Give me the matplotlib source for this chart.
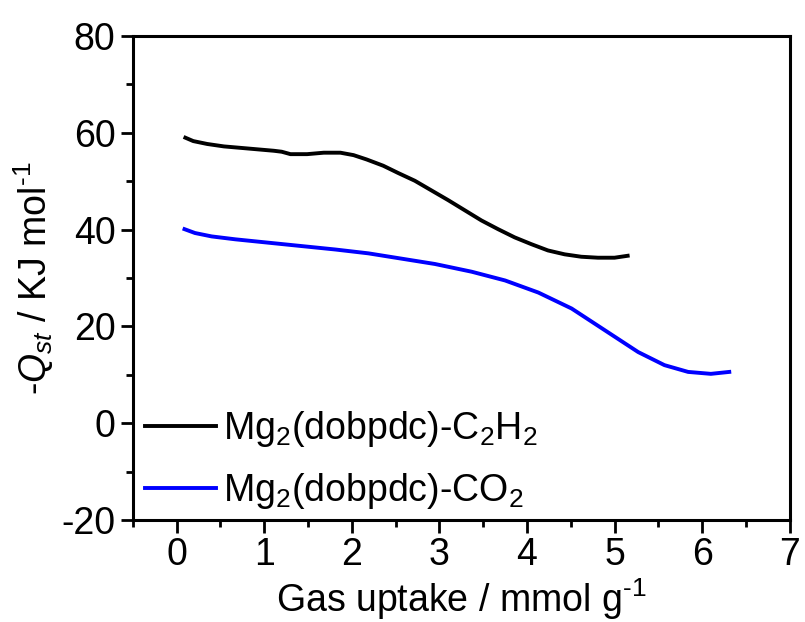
'''吸着熱 (-Qst) と吸着量の関係を描く'''

import matplotlib.pyplot as plt

plt.rcParams['font.family'] = ['Liberation Sans', 'DejaVu Sans']
plt.rcParams['mathtext.fontset'] = 'custom'
plt.rcParams['mathtext.rm'] = 'Liberation Sans'
plt.rcParams['mathtext.it'] = 'Liberation Sans:italic'
plt.rcParams['mathtext.default'] = 'regular'
plt.rcParams['axes.unicode_minus'] = False

### データ
x_c2h2 = [0.10, 0.19, 0.35, 0.54, 0.73, 0.92, 1.11, 1.20, 1.30, 1.49, 1.68, 1.87,
          2.02, 2.17, 2.36, 2.53, 2.72, 2.91, 3.10, 3.29, 3.48, 3.67, 3.86, 4.05,
          4.24, 4.43, 4.62, 4.81, 5.00, 5.15]
q_c2h2 = [59.0, 58.3, 57.7, 57.2, 56.9, 56.6, 56.3, 56.1, 55.6, 55.6, 55.9, 55.9,
          55.4, 54.5, 53.2, 51.7, 50.1, 48.1, 46.1, 44.0, 41.9, 40.1, 38.4, 37.0,
          35.7, 34.9, 34.4, 34.2, 34.2, 34.6]

x_co2 = [0.09, 0.21, 0.40, 0.67, 1.05, 1.43, 1.81, 2.19, 2.57, 2.95, 3.37, 3.75,
         4.13, 4.51, 4.89, 5.27, 5.57, 5.84, 6.10, 6.31]
q_co2 = [40.1, 39.3, 38.6, 38.0, 37.3, 36.6, 35.9, 35.1, 34.0, 32.9, 31.3, 29.5,
         27.0, 23.7, 19.2, 14.7, 12.0, 10.6, 10.2, 10.6]

labels = ['Mg$_2$(dobpdc)-C$_2$H$_2$', 'Mg$_2$(dobpdc)-CO$_2$']

### 描画
fig = plt.figure(figsize=(8.05, 6.22), dpi=100)
ax = fig.add_axes([0.165, 0.164, 0.816, 0.778])

ax.plot(x_c2h2, q_c2h2, color='black', lw=2.8, label=labels[0])
ax.plot(x_co2, q_co2, color='blue', lw=2.8, label=labels[1])

#### 軸
ax.set_xlim(-0.5, 7)
ax.set_ylim(-20, 80)
ax.set_xticks(range(0, 8))
ax.set_xticks([x + 0.5 for x in range(-1, 7)], minor=True)
ax.set_yticks(range(-20, 81, 20))
ax.set_yticks(range(-10, 80, 20), minor=True)
ax.tick_params(which='major', direction='out', length=9, width=2, labelsize=27)
ax.tick_params(which='minor', direction='out', length=5, width=2)
for s in ax.spines.values():
    s.set_linewidth(2.2)

ax.set_xlabel('Gas uptake / mmol g$^{\\text{-}1}$', fontsize=27, labelpad=2)
ax.set_ylabel('-$\\it{Q}_{\\it{st}}$ / KJ mol$^{\\text{-}1}$', fontsize=27, labelpad=4)

#### 凡例
ax.legend(loc='lower left', bbox_to_anchor=(-0.005, -0.012), frameon=False,
          fontsize=27, handlelength=1.9, handletextpad=0.2, labelspacing=0.59,
          borderaxespad=0)

fig.savefig('out.png', dpi=100)
